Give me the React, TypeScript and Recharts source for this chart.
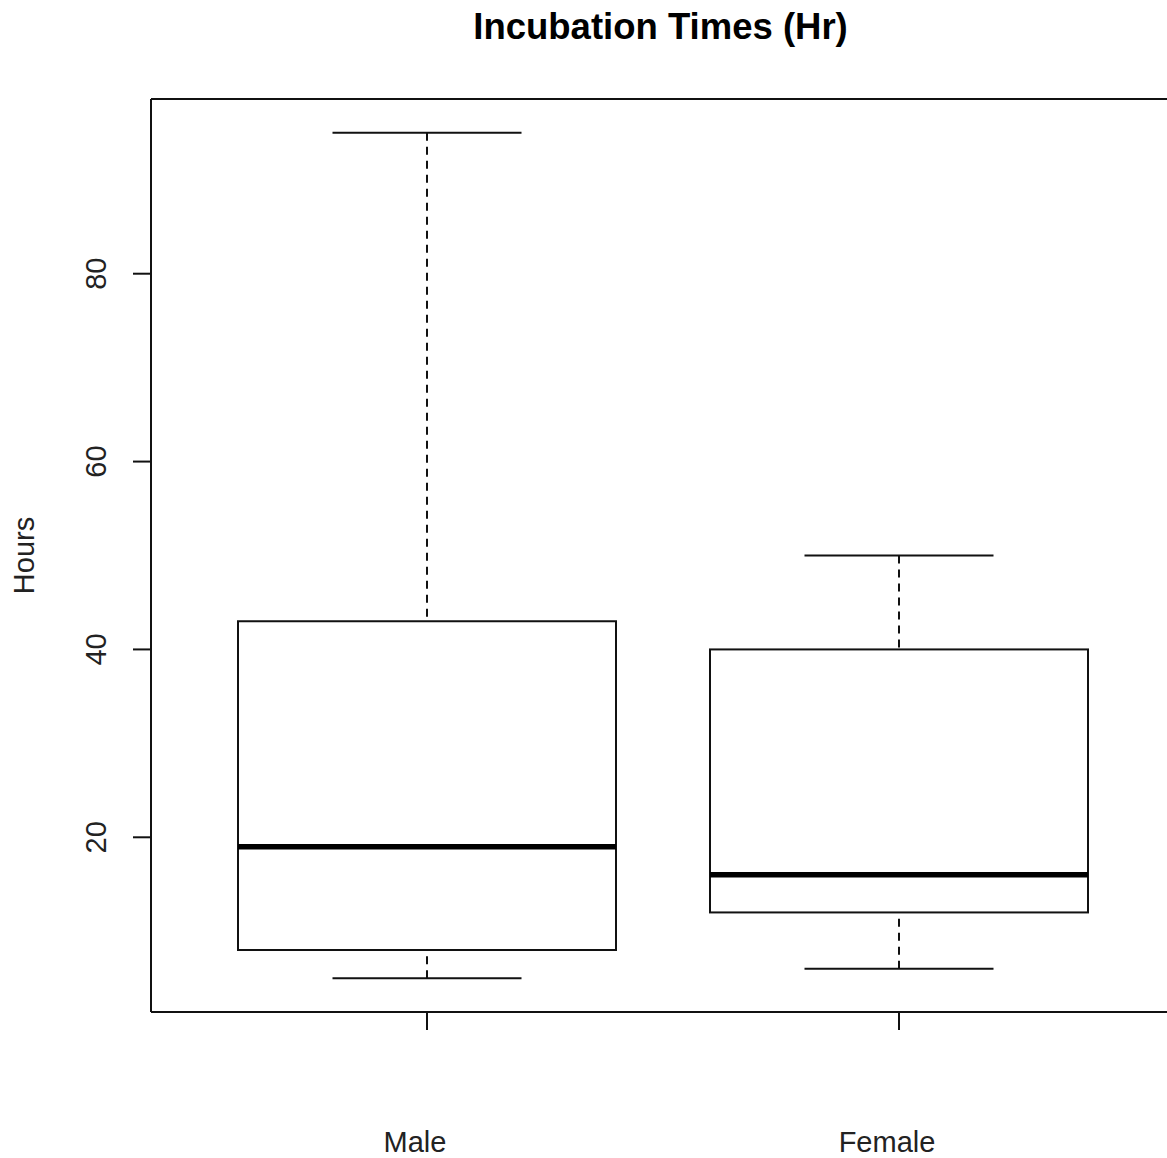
import { ComposedChart, Bar, XAxis, YAxis } from 'recharts'

// five-number summaries
const groups = ['Male', 'Female']
const mins = [5, 6]
const q1s = [8, 12]
const medians = [19, 16]
const q3s = [43, 40]
const maxs = [95, 50]
const yTicks = [20, 40, 60, 80]

const data = groups.map((name, i) => ({
  name,
  box: [q1s[i], q3s[i]],
  min: mins[i],
  median: medians[i],
  max: maxs[i],
}))

const FONT = '"Liberation Sans", Arial, Helvetica, sans-serif'
const INK = '#111'

// Box, median and dashed whiskers, scaled from the bar's own q1..q3 pixels
const BoxShape = (props: any) => {
  const { x, y, width, height, payload } = props
  const [q1, q3] = payload.box as number[]
  const k = height / (q3 - q1)
  const toY = (v: number) => y + (q3 - v) * k
  const cx = x + width / 2
  const cap = width / 4
  return (
    <g>
      <line x1={cx} x2={cx} y1={toY(payload.max)} y2={toY(q3)} stroke={INK} strokeWidth={2} strokeDasharray="8 6" />
      <line x1={cx} x2={cx} y1={toY(payload.min)} y2={toY(q1)} stroke={INK} strokeWidth={2} strokeDasharray="8 6" />
      <line x1={cx - cap} x2={cx + cap} y1={toY(payload.max)} y2={toY(payload.max)} stroke={INK} strokeWidth={2} />
      <line x1={cx - cap} x2={cx + cap} y1={toY(payload.min)} y2={toY(payload.min)} stroke={INK} strokeWidth={2} />
      <rect x={x} y={y} width={width} height={height} fill="#fff" stroke={INK} strokeWidth={2} />
      <line x1={x} x2={x + width} y1={toY(payload.median)} y2={toY(payload.median)} stroke="#000" strokeWidth={5.5} />
    </g>
  )
}

const YTick = ({ x, y, payload }: any) => (
  <text
    x={x - 27}
    y={y}
    transform={`rotate(-90 ${x - 27} ${y})`}
    textAnchor="middle"
    fontSize={29}
    fontFamily={FONT}
    fill="#222"
  >
    {payload.value}
  </text>
)

const XTick = ({ x, y, payload }: any) => (
  <text x={x - 12} y={y + 122} textAnchor="middle" fontSize={29} fontFamily={FONT} fill="#222">
    {payload.value}
  </text>
)

const HoursLabel = ({ viewBox }: any) => {
  const lx = viewBox.x + 34
  const ly = viewBox.y + viewBox.height / 2
  return (
    <text x={lx} y={ly} transform={`rotate(-90 ${lx} ${ly})`} textAnchor="middle" fontSize={29} fontFamily={FONT} fill="#222">
      Hours
    </text>
  )
}

export default function App() {
  return (
    <div style={{ position: 'absolute', left: 0, top: 0, width: 1167, height: 1158, overflow: 'hidden', background: '#fff' }}>
      <div
        style={{
          position: 'absolute', left: 0, top: 7, width: 1321, textAlign: 'center',
          fontFamily: FONT, fontWeight: 700, fontSize: 36.5, lineHeight: '40px', color: '#000',
        }}
      >
        Incubation Times (Hr)
      </div>
      <ComposedChart
        width={1200}
        height={1158}
        data={data}
        margin={{ top: 98, right: 25, bottom: 0, left: 0 }}
      >
        <XAxis
          dataKey="name"
          type="category"
          padding={{ left: 40, right: 40 }}
          height={146}
          tickSize={18}
          tickMargin={0}
          tick={<XTick />}
          axisLine={{ stroke: INK, strokeWidth: 2 }}
          tickLine={{ stroke: INK, strokeWidth: 2 }}
        />
        <XAxis
          xAxisId="top"
          dataKey="name"
          orientation="top"
          height={1}
          tick={false}
          tickLine={false}
          axisLine={{ stroke: INK, strokeWidth: 2 }}
        />
        <YAxis
          type="number"
          domain={[1.4, 98.6]}
          ticks={yTicks}
          width={151}
          tickSize={18}
          tickMargin={0}
          tick={<YTick />}
          axisLine={{ stroke: INK, strokeWidth: 2 }}
          tickLine={{ stroke: INK, strokeWidth: 2 }}
          label={<HoursLabel />}
        />
        <Bar dataKey="box" barSize={378} shape={<BoxShape />} isAnimationActive={false} />
      </ComposedChart>
    </div>
  )
}
